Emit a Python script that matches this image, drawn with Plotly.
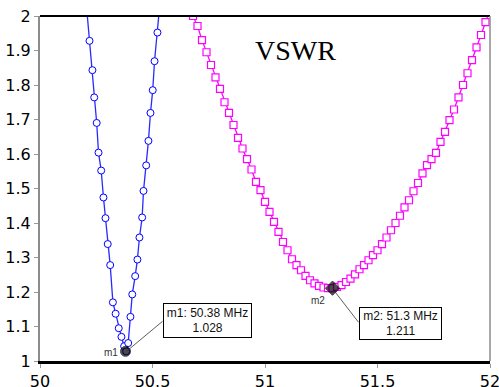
import plotly.graph_objects as go

# ---------------- data ----------------
blue_freq = [50.209, 50.220, 50.233, 50.241, 50.252, 50.260, 50.272, 50.282, 50.291, 50.301,
             50.312, 50.324, 50.336, 50.350, 50.362, 50.374, 50.383, 50.392, 50.402, 50.410,
             50.423, 50.433, 50.442, 50.454, 50.460, 50.472, 50.482, 50.491, 50.501, 50.509,
             50.522, 50.532]
blue_vswr = [2.010, 1.928, 1.843, 1.764, 1.690, 1.604, 1.552, 1.474, 1.414, 1.339,
             1.278, 1.170, 1.137, 1.095, 1.070, 1.043, 1.028, 1.052, 1.128, 1.193,
             1.246, 1.294, 1.358, 1.416, 1.493, 1.567, 1.638, 1.719, 1.785, 1.869,
             1.952, 2.030]

mag_freq = [50.68, 50.70, 50.72, 50.74, 50.76, 50.78, 50.80, 50.82, 50.84, 50.86,
            50.88, 50.90, 50.92, 50.94, 50.96, 50.98, 51.00, 51.02, 51.04, 51.06,
            51.08, 51.10, 51.12, 51.14, 51.16, 51.18, 51.20, 51.22, 51.24, 51.26,
            51.28, 51.30, 51.32, 51.34, 51.36, 51.38, 51.40, 51.42, 51.44, 51.46,
            51.48, 51.50, 51.52, 51.54, 51.56, 51.58, 51.60, 51.62, 51.64, 51.66,
            51.68, 51.70, 51.72, 51.74, 51.76, 51.78, 51.80, 51.82, 51.84, 51.86,
            51.88, 51.90, 51.92, 51.94, 51.96, 51.98, 52.00]
mag_vswr = [2.000, 1.971, 1.930, 1.895, 1.858, 1.822, 1.789, 1.750, 1.719, 1.684,
            1.647, 1.616, 1.585, 1.555, 1.519, 1.495, 1.461, 1.432, 1.403, 1.374,
            1.345, 1.321, 1.295, 1.278, 1.263, 1.247, 1.234, 1.225, 1.218, 1.213,
            1.211, 1.211, 1.215, 1.220, 1.229, 1.239, 1.251, 1.266, 1.278, 1.292,
            1.307, 1.321, 1.339, 1.358, 1.379, 1.400, 1.421, 1.445, 1.466, 1.492,
            1.516, 1.544, 1.568, 1.585, 1.603, 1.635, 1.664, 1.698, 1.729, 1.764,
            1.800, 1.834, 1.872, 1.909, 1.945, 1.982, 2.020]

marker_names = ["m1", "m2"]
marker_freq = [50.38, 51.3]
marker_vswr = [1.028, 1.211]

x_ticks = [50, 50.5, 51, 51.5, 52]
x_tick_labels = ["50", "50.5", "51", "51.5", "52"]
y_ticks = [1.0, 1.1, 1.2, 1.3, 1.4, 1.5, 1.6, 1.7, 1.8, 1.9, 2.0]
y_tick_labels = ["1", "1.1", "1.2", "1.3", "1.4", "1.5", "1.6", "1.7", "1.8", "1.9", "2"]

title_text = "VSWR"

# ---------------- figure ----------------
fig = go.Figure()

fig.add_trace(go.Scatter(
    x=blue_freq, y=blue_vswr, mode="lines+markers",
    line=dict(color="#2a2aff", width=1.3),
    marker=dict(symbol="circle", size=7, color="white",
                line=dict(color="#0000ff", width=1)),
    hoverinfo="skip"))

fig.add_trace(go.Scatter(
    x=mag_freq, y=mag_vswr, mode="lines+markers",
    line=dict(color="#ff00ff", width=1.3),
    marker=dict(symbol="square", size=7, color="white",
                line=dict(color="#ff00ff", width=1.2)),
    hoverinfo="skip"))

marker_symbols = ["circle", "diamond"]
fig.add_trace(go.Scatter(
    x=marker_freq, y=marker_vswr, mode="markers",
    marker=dict(symbol=marker_symbols, size=[10, 11], color="black",
                line=dict(color="black", width=1)),
    hoverinfo="skip"))

# per-marker styling: leader (x0,y0,x1,y1 px), box (xshift, yshift, width, height), label shift
leader = [(1, 0, 37, 30), (2, -3, 26, -34)]
box = [(37, 31, 85, 31), (26, -35, 79, 29)]
label_shift = [(-6, -1), (-6, -12)]

shapes = []
annotations = []
for i, name in enumerate(marker_names):
    fx, fy = marker_freq[i], marker_vswr[i]
    lx0, ly0, lx1, ly1 = leader[i]
    shapes.append(dict(type="line", xref="x", yref="y",
                       xsizemode="pixel", ysizemode="pixel",
                       xanchor=fx, yanchor=fy,
                       x0=lx0, y0=ly0, x1=lx1, y1=ly1,
                       line=dict(color="#333333", width=0.8)))
    xs, ys, w, h = box[i]
    annotations.append(dict(
        x=fx, y=fy, xref="x", yref="y", showarrow=False,
        text=f"{name}: {fx:g} MHz<br>{fy:.3f}",
        xanchor="left", yanchor="middle", xshift=xs, yshift=ys,
        width=w, height=h, align="center", valign="middle",
        bordercolor="black", borderwidth=1, borderpad=1, bgcolor="white",
        font=dict(family="Liberation Sans, Arial", size=12, color="#111111")))
    sx, sy = label_shift[i]
    annotations.append(dict(
        x=fx, y=fy, xref="x", yref="y", showarrow=False,
        text=name, xanchor="right", yanchor="middle", xshift=sx, yshift=sy,
        font=dict(family="Liberation Sans, Arial", size=10, color="#333333")))

annotations.append(dict(
    x=0.567, y=0.90, xref="paper", yref="paper", showarrow=False,
    text=title_text, xanchor="center", yanchor="middle",
    font=dict(family="Liberation Serif, Times New Roman, serif", size=28, color="black")))

# frame: top (black) and right (grey)
shapes.append(dict(type="line", xref="paper", yref="paper", x0=0, x1=1, y0=1, y1=1,
                   line=dict(color="black", width=2)))
shapes.append(dict(type="line", xref="paper", yref="paper", x0=1, x1=1, y0=0, y1=1,
                   line=dict(color="#8c8c8c", width=1.5)))

tick_font = dict(family="DejaVu Sans, Arial", size=16, color="black")

fig.update_layout(
    width=499, height=387,
    margin=dict(l=40, r=9, t=16, b=26),
    paper_bgcolor="white", plot_bgcolor="white",
    showlegend=False,
    hovermode=False,
    dragmode=False,
    shapes=shapes,
    annotations=annotations,
    xaxis=dict(range=[50, 52], tickvals=x_ticks, ticktext=x_tick_labels,
               showgrid=False, zeroline=False, showline=True,
               linecolor="black", linewidth=3,
               ticks="outside", ticklen=4, tickcolor="#999999", tickwidth=1,
               tickfont=tick_font, automargin=False, ticklabeloverflow="allow"),
    yaxis=dict(range=[1, 2], tickvals=y_ticks, ticktext=y_tick_labels,
               showgrid=False, zeroline=False, showline=True,
               linecolor="#8c8c8c", linewidth=2,
               ticks="outside", ticklen=4, tickcolor="#999999", tickwidth=1,
               tickfont=tick_font, automargin=False, ticklabeloverflow="allow"),
)

fig.write_html("out.html", config={"displayModeBar": False, "staticPlot": True},
               post_script="document.body.style.margin='0';document.body.style.overflow='hidden';")
